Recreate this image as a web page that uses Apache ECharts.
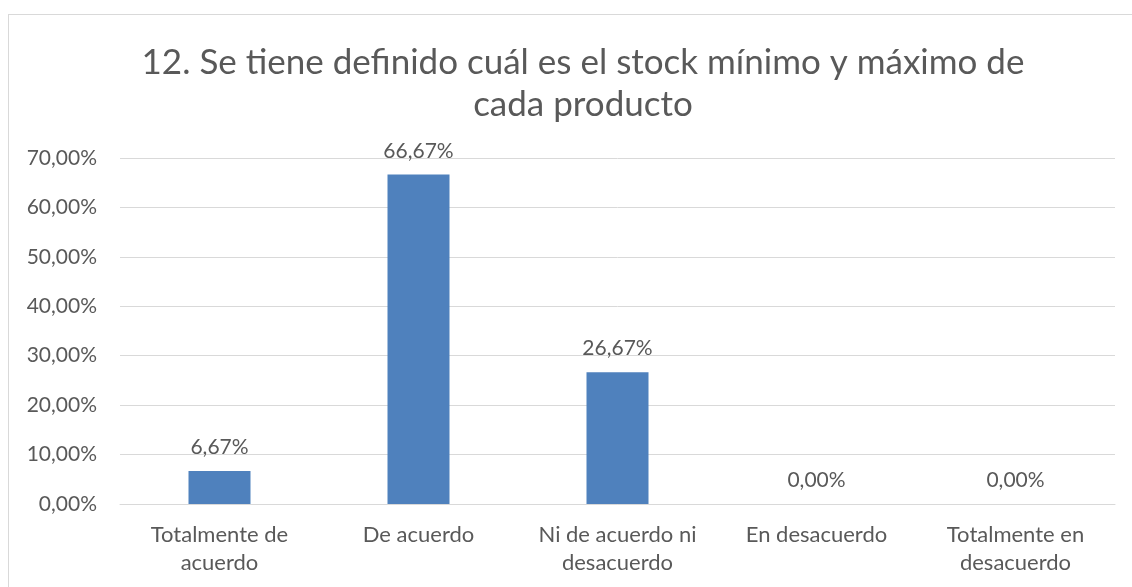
<!DOCTYPE html>
<html>
<head>
<meta charset="utf-8">
<script src="https://cdn.jsdelivr.net/npm/echarts@6/dist/echarts.min.js"></script>
<style>
  html, body { margin: 0; padding: 0; background: #fff; }
  #frame { position: absolute; left: 8px; top: 14px; width: 1130px; height: 590px; border: 1px solid #d9d9d9; box-sizing: border-box; }
  #chart { position: absolute; left: 0; top: 0; width: 1132px; height: 587px; }
</style>
</head>
<body>
<div id="frame"></div>
<div id="chart"></div>
<script>
// categorías y porcentajes
const categories = ['Totalmente de\nacuerdo', 'De acuerdo', 'Ni de acuerdo ni\ndesacuerdo', 'En desacuerdo', 'Totalmente en\ndesacuerdo']
const values = [6.67, 66.67, 26.67, 0, 0]
const yTicks = [0, 10, 20, 30, 40, 50, 60, 70]

const txt = '#595959'
const grid = '#d9d9d9'
const font = 'Lato, "Open Sans", sans-serif'
const pct = v => v.toFixed(2).replace('.', ',') + '%'

const chart = echarts.init(document.getElementById('chart'), null, { renderer: 'canvas' })
chart.setOption({
  animation: false,
  title: {
    text: '12. Se tiene definido cuál es el stock mínimo y máximo de\ncada producto',
    left: 578, top: 37, textAlign: 'center',
    textStyle: { color: txt, fontFamily: font, fontSize: 35, fontWeight: 'normal', lineHeight: 42 },
  },
  grid: { left: 120, right: 17, top: 158, bottom: 83 },
  xAxis: {
    type: 'category', data: categories,
    axisLine: { lineStyle: { color: grid } },
    axisTick: { show: false },
    axisLabel: { color: txt, fontFamily: font, fontSize: 22, lineHeight: 28, margin: 17, interval: 0 },
  },
  yAxis: {
    type: 'value', min: yTicks[0], max: yTicks[yTicks.length - 1], interval: 10,
    axisLine: { show: false },
    axisTick: { show: false },
    splitLine: { lineStyle: { color: grid, width: 1 } },
    axisLabel: { color: txt, fontFamily: font, fontSize: 21, margin: 23, formatter: pct },
  },
  series: [{
    type: 'bar', data: values, barWidth: 62,
    itemStyle: { color: '#4f81bd' },
    label: { show: true, position: 'top', distance: 13, color: txt, fontFamily: font, fontSize: 21,
      formatter: p => pct(p.value) },
  }],
})
</script>
</body>
</html>
